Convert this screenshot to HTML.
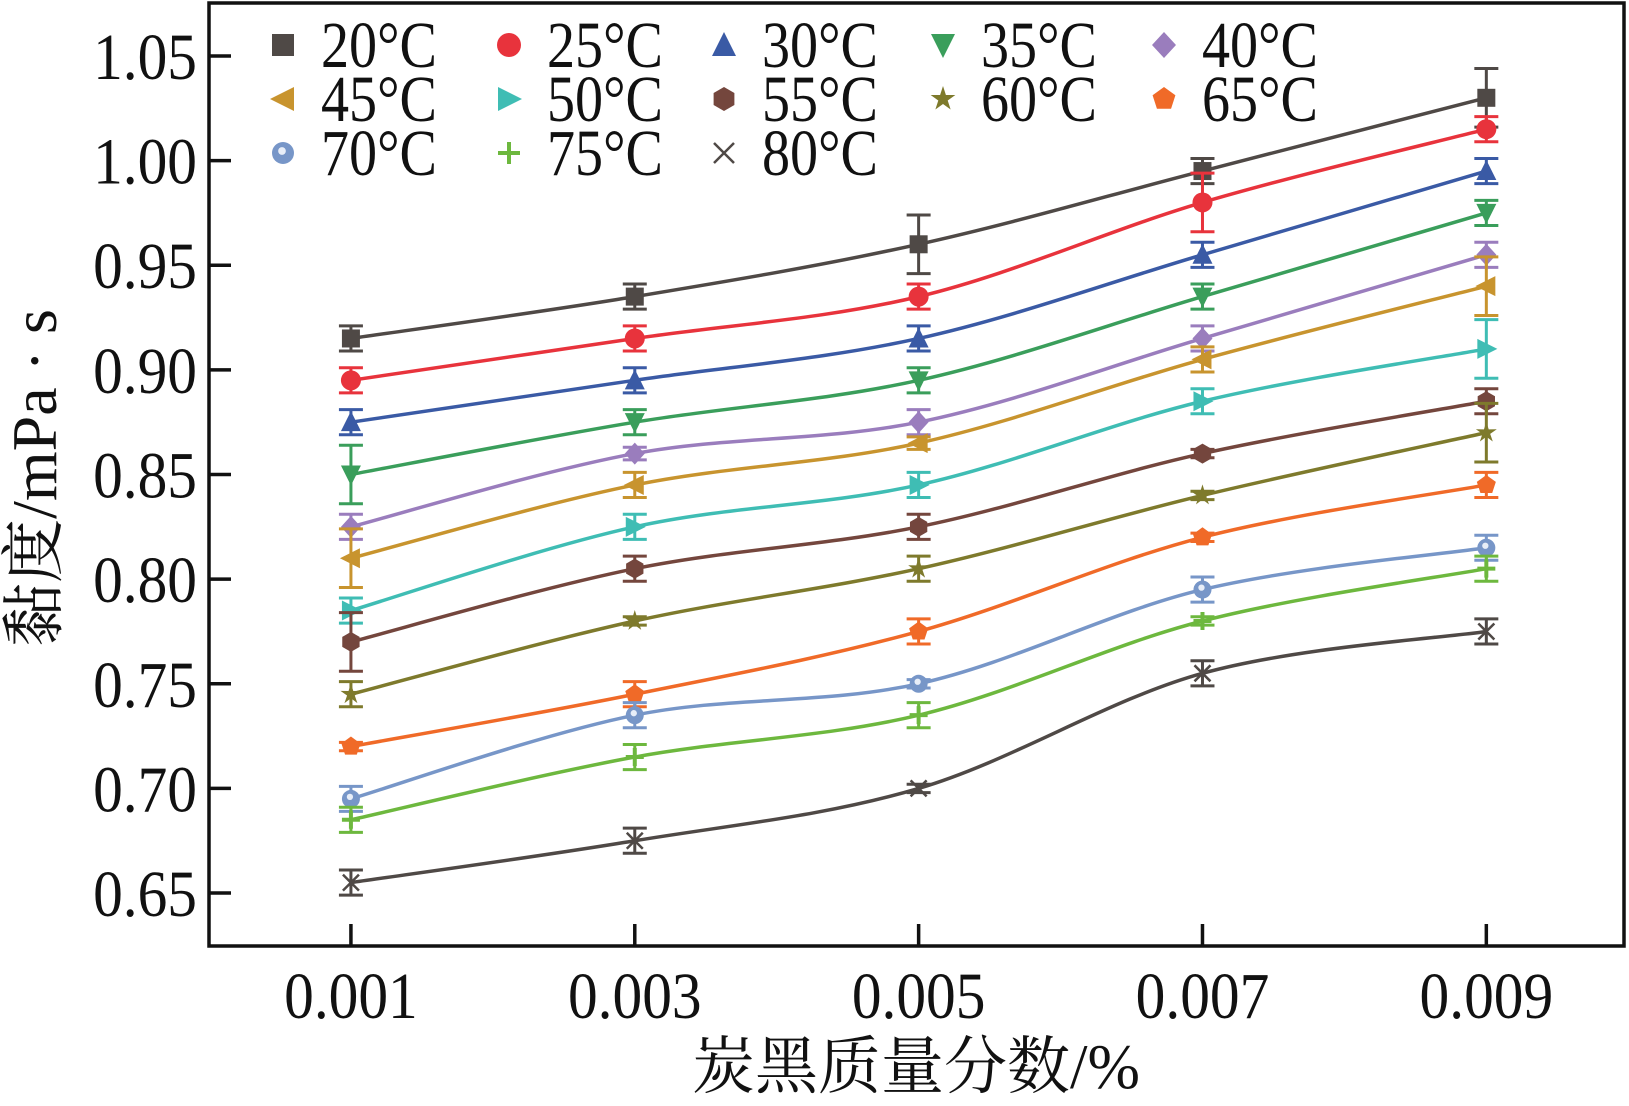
<!DOCTYPE html>
<html><head><meta charset="utf-8">
<style>
html,body{margin:0;padding:0;background:#fff;}
svg{display:block;}
text{font-family:"Liberation Serif","Noto Serif CJK SC","Noto Sans CJK SC",serif;fill:#111;}
</style></head>
<body>
<svg id="chart" width="1629" height="1106" viewBox="0 0 1629 1106" xmlns="http://www.w3.org/2000/svg">
<g id="plot"></g>
<g id="axes"></g>
<g id="legend"></g>
<text x="916" y="1088" font-size="63" text-anchor="middle">炭黑质量分数/%</text>
<text transform="translate(56,478) rotate(-90)" font-size="64" text-anchor="middle">黏度/mPa · s</text>
</svg>
<script>
const categories=[0.001,0.003,0.005,0.007,0.009];
const xTickLabels=["0.001","0.003","0.005","0.007","0.009"];
const yTicks=[0.65,0.70,0.75,0.80,0.85,0.90,0.95,1.00,1.05];
const yTickLabels=["0.65","0.70","0.75","0.80","0.85","0.90","0.95","1.00","1.05"];
const seriesNames=["20°C","25°C","30°C","35°C","40°C","45°C","50°C","55°C","60°C","65°C","70°C","75°C","80°C"];
const s20=[0.915,0.935,0.960,0.995,1.030];
const s25=[0.895,0.915,0.935,0.980,1.015];
const s30=[0.875,0.895,0.915,0.955,0.995];
const s35=[0.850,0.875,0.895,0.935,0.975];
const s40=[0.825,0.860,0.875,0.915,0.955];
const s45=[0.810,0.845,0.865,0.905,0.940];
const s50=[0.785,0.825,0.845,0.885,0.910];
const s55=[0.770,0.805,0.825,0.860,0.885];
const s60=[0.745,0.780,0.805,0.840,0.870];
const s65=[0.720,0.745,0.775,0.820,0.845];
const s70=[0.695,0.735,0.750,0.795,0.815];
const s75=[0.685,0.715,0.735,0.780,0.805];
const s80=[0.655,0.675,0.700,0.755,0.775];
const e20=[0.006,0.006,0.014,0.006,0.014];
const e25=[0.006,0.006,0.006,0.014,0.006];
const e30=[0.006,0.006,0.006,0.006,0.006];
const e35=[0.014,0.006,0.006,0.006,0.006];
const e40=[0.006,0.003,0.006,0.006,0.006];
const e45=[0.014,0.006,0.003,0.006,0.014];
const e50=[0.006,0.006,0.006,0.006,0.014];
const e55=[0.014,0.006,0.006,0.002,0.006];
const e60=[0.006,0.002,0.006,0.002,0.014];
const e65=[0.002,0.006,0.006,0.002,0.006];
const e70=[0.006,0.006,0.002,0.006,0.006];
const e75=[0.006,0.006,0.006,0.002,0.006];
const e80=[0.006,0.006,0.002,0.006,0.006];
const allSeries=[s20,s25,s30,s35,s40,s45,s50,s55,s60,s65,s70,s75,s80];
const allErr=[e20,e25,e30,e35,e40,e45,e50,e55,e60,e65,e70,e75,e80];
const colors=["#4f4946","#e8333c","#3a5aa5","#3a9e5b","#9a7dbd","#c8942e","#3fbdb4","#74463d","#7e7a2c","#f06a28","#7796c8","#6db83e","#4f4946"];
const markers=["square","circle","triUp","triDown","diamond","triLeft","triRight","hexagon","star","pentagon","ball","plus","cross"];

const L=209,R=1624,T=3,B=946;
const xMin=0,xMax=0.00997,yMin=0.6247,yMax=1.0753;
const xs=v=>L+(v-xMin)/(xMax-xMin)*(R-L);
const ys=v=>B-(v-yMin)/(yMax-yMin)*(B-T);
const NS="http://www.w3.org/2000/svg";
function mk(tag,attrs,parent){const e=document.createElementNS(NS,tag);for(const k in attrs)e.setAttribute(k,attrs[k]);parent.appendChild(e);return e;}

function markerShape(type,cx,cy,c,parent,s){
  s=s||9;let e;
  const poly=(pts)=>mk('polygon',{points:pts.map(p=>p.join(',')).join(' '),fill:c},parent);
  switch(type){
    case 'square':e=mk('rect',{x:cx-s,y:cy-s,width:2*s,height:2*s,fill:c},parent);break;
    case 'circle':e=mk('circle',{cx:cx,cy:cy,r:s+1,fill:c},parent);break;
    case 'triUp':e=poly([[cx,cy-s-2],[cx-s-1,cy+s],[cx+s+1,cy+s]]);break;
    case 'triDown':e=poly([[cx,cy+s+2],[cx-s-1,cy-s],[cx+s+1,cy-s]]);break;
    case 'triLeft':e=poly([[cx-s-2,cy],[cx+s,cy-s-1],[cx+s,cy+s+1]]);break;
    case 'triRight':e=poly([[cx+s+2,cy],[cx-s,cy-s-1],[cx-s,cy+s+1]]);break;
    case 'diamond':e=poly([[cx,cy-s-2],[cx+s+1,cy],[cx,cy+s+2],[cx-s-1,cy]]);break;
    case 'hexagon':{const p=[];for(let i=0;i<6;i++){const a=Math.PI/6+i*Math.PI/3;p.push([cx+(s+1)*Math.cos(a),cy+(s+1)*Math.sin(a)]);}e=poly(p);break;}
    case 'pentagon':{const p=[];for(let i=0;i<5;i++){const a=-Math.PI/2+i*2*Math.PI/5;p.push([cx+(s+1)*Math.cos(a),cy+(s+1)*Math.sin(a)]);}e=poly(p);break;}
    case 'star':{const p=[];for(let i=0;i<10;i++){const a=-Math.PI/2+i*Math.PI/5;const r=i%2?s*0.45:s+2;p.push([cx+r*Math.cos(a),cy+r*Math.sin(a)]);}e=poly(p);break;}
    case 'ball':e=mk('g',{},parent);mk('circle',{cx:cx,cy:cy,r:s,fill:c},e);mk('circle',{cx:cx-1,cy:cy-2,r:s*0.35,fill:'#e8eef8'},e);break;
    case 'plus':e=mk('path',{d:`M${cx-s} ${cy}H${cx+s}M${cx} ${cy-s}V${cy+s}`,stroke:c,'stroke-width':4,fill:'none'},parent);break;
    case 'cross':e=mk('path',{d:`M${cx-s+1} ${cy-s+1}L${cx+s-1} ${cy+s-1}M${cx+s-1} ${cy-s+1}L${cx-s+1} ${cy+s-1}`,stroke:c,'stroke-width':2.5,fill:'none'},parent);break;
  }
  return e;
}

function smoothPath(pts){
  let d=`M${pts[0][0]},${pts[0][1]}`;
  for(let i=0;i<pts.length-1;i++){
    const p0=pts[Math.max(0,i-1)],p1=pts[i],p2=pts[i+1],p3=pts[Math.min(pts.length-1,i+2)];
    const c1=[p1[0]+(p2[0]-p0[0])/6,p1[1]+(p2[1]-p0[1])/6];
    const c2=[p2[0]-(p3[0]-p1[0])/6,p2[1]-(p3[1]-p1[1])/6];
    d+=` C${c1[0]},${c1[1]} ${c2[0]},${c2[1]} ${p2[0]},${p2[1]}`;
  }
  return d;
}

const plot=document.getElementById('plot');
allSeries.forEach((vals,si)=>{
  const g=mk('g',{},plot);
  
  
  const pts=vals.map((v,i)=>[xs(categories[i]),ys(v)]);
  const line=mk('path',{d:smoothPath(pts),fill:'none',stroke:colors[si],'stroke-width':3.5},g);
  
  
  vals.forEach((v,i)=>{
    const x=xs(categories[i]),e=allErr[si][i];
    const y1=ys(v+e),y2=ys(v-e);
    const eb=mk('path',{d:`M${x} ${y1}V${y2}M${x-12} ${y1}H${x+12}M${x-12} ${y2}H${x+12}`,stroke:colors[si],'stroke-width':3,fill:'none'},g);
    
    
    const m=markerShape(markers[si],x,ys(v),colors[si],g,9);
    
    
  });
});

const axes=document.getElementById('axes');
const frame=mk('rect',{x:L,y:T,width:R-L,height:B-T,fill:'none',stroke:'#111','stroke-width':3.5},axes);


yTicks.forEach((v,i)=>{
  const y=ys(v);
  const t=mk('line',{x1:L,x2:L+22,y1:y,y2:y,stroke:'#111','stroke-width':3.5},axes);
  
  
  const lb=mk('text',{transform:`translate(197,${y+23}) scale(0.9,1)`,'font-size':66,'text-anchor':'end'},axes);
  lb.textContent=yTickLabels[i];
  
  
});
categories.forEach((v,i)=>{
  const x=xs(v);
  const t=mk('line',{x1:x,x2:x,y1:B,y2:B-22,stroke:'#111','stroke-width':3.5},axes);
  
  
  const lb=mk('text',{transform:`translate(${x},1018) scale(0.9,1)`,'font-size':66,'text-anchor':'middle'},axes);
  lb.textContent=xTickLabels[i];
  
  
});

const legend=document.getElementById('legend');
const colX=[283,509,724,943,1164],rowY=[45,99,153];
seriesNames.forEach((n,i)=>{
  const cx=colX[i%5],cy=rowY[Math.floor(i/5)];
  const g=mk('g',{},legend);
  
  
  markerShape(markers[i],cx,cy,colors[i],g,11);
  const t=mk('text',{transform:`translate(${cx+38},${cy+22}) scale(0.85,1)`,'font-size':66},g);
  t.textContent=n;
});
</script>
</body></html>
